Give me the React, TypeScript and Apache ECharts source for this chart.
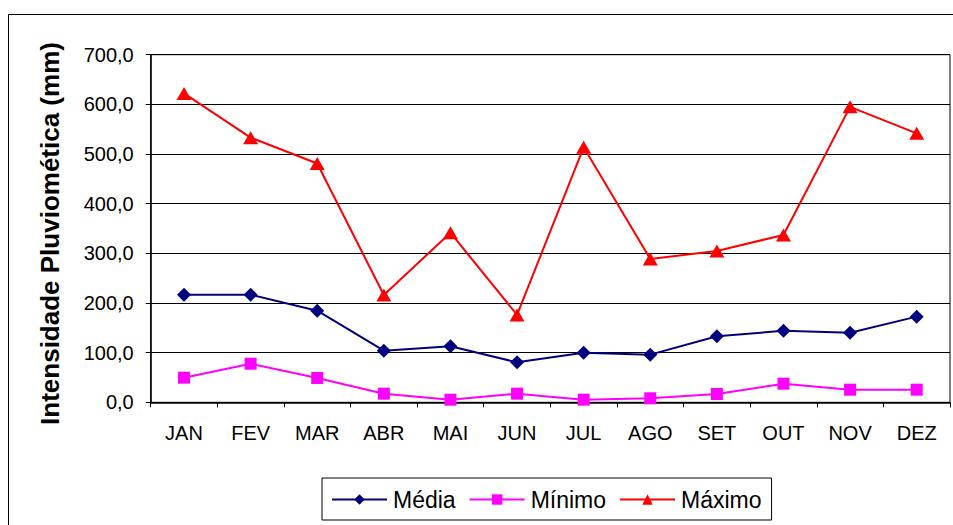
import React, { useEffect, useRef } from "react";
import * as echarts from "echarts";

const categories = ["JAN", "FEV", "MAR", "ABR", "MAI", "JUN", "JUL", "AGO", "SET", "OUT", "NOV", "DEZ"];
const media = [216.7, 216.7, 184.5, 104, 112.7, 80.5, 100, 96, 133, 144, 140, 172.5];
const minimo = [49.6, 77.7, 49, 17.4, 5.3, 17.4, 5.3, 8, 16.7, 37.5, 25.4, 25.4];
const maximo = [622, 533, 481, 216, 341.5, 176, 513.5, 288.6, 304.7, 337, 595, 541.7];
const seriesNames = ["Média", "Mínimo", "Máximo"];
const yTitle = "Intensidade Pluviomética (mm)";

export default function App() {
  const ref = useRef<HTMLDivElement>(null);
  useEffect(() => {
    if (!ref.current) return;
    const chart = echarts.init(ref.current, null, { renderer: "svg" });
    const font = "'Liberation Sans', Arial, sans-serif";
    chart.setOption({
      animation: false,
      textStyle: { fontFamily: font },
      graphic: [
        {
          type: "rect",
          shape: { x: 8.5, y: 14.5, width: 960, height: 530 },
          style: { fill: "none", stroke: "#000", lineWidth: 1 },
          silent: true,
        },
      ],
      grid: {
        left: 150.7,
        top: 54.7,
        right: 3,
        bottom: 122.7,
        show: true,
        borderColor: "#000",
        borderWidth: 1,
      },
      legend: {
        data: seriesNames,
        left: 322,
        top: 478,
        padding: [10, 10, 9, 9],
        borderColor: "#000",
        borderWidth: 1,
        itemWidth: 55,
        itemHeight: 13,
        itemGap: 13,
        textStyle: { fontSize: 23, color: "#000", fontFamily: font, padding: [0, 0, 0, 1] },
      },
      xAxis: {
        type: "category",
        data: categories,
        boundaryGap: true,
        axisLine: { lineStyle: { color: "#000", width: 1.5 } },
        axisTick: { show: true, length: 5, lineStyle: { color: "#000" } },
        axisLabel: { fontSize: 20, color: "#000", margin: 21, fontFamily: font },
      },
      yAxis: {
        type: "value",
        min: 0,
        max: 700,
        interval: 100,
        name: yTitle,
        nameLocation: "middle",
        nameGap: 88,
        nameTextStyle: {
          fontSize: 26,
          fontWeight: "bold",
          color: "#000",
          fontFamily: font,
          padding: [0, 10, 0, 0],
        },
        axisLine: { show: true, lineStyle: { color: "#000", width: 1.5 } },
        axisTick: { show: true, length: 5, lineStyle: { color: "#000" } },
        axisLabel: {
          fontSize: 20,
          color: "#000",
          margin: 17,
          fontFamily: font,
          formatter: (v: number) => v.toFixed(1).replace(".", ","),
        },
        splitLine: { lineStyle: { color: "#000", width: 1 } },
      },
      series: [
        {
          name: seriesNames[0],
          type: "line",
          data: media,
          symbol: "diamond",
          symbolSize: 14,
          color: "#000080",
          lineStyle: { width: 2, color: "#000080" },
          itemStyle: { color: "#000080" },
        },
        {
          name: seriesNames[1],
          type: "line",
          data: minimo,
          symbol: "rect",
          symbolSize: 12,
          color: "#ff00ff",
          lineStyle: { width: 2, color: "#ff00ff" },
          itemStyle: { color: "#ff00ff" },
        },
        {
          name: seriesNames[2],
          type: "line",
          data: maximo,
          symbol: "triangle",
          symbolSize: [15, 13],
          color: "#ff0000",
          lineStyle: { width: 2, color: "#ff0000" },
          itemStyle: { color: "#ff0000" },
        },
      ],
    });
    return () => chart.dispose();
  }, []);
  return <div ref={ref} style={{ width: 953, height: 525, position: "absolute", left: 0, top: 0 }} />;
}
